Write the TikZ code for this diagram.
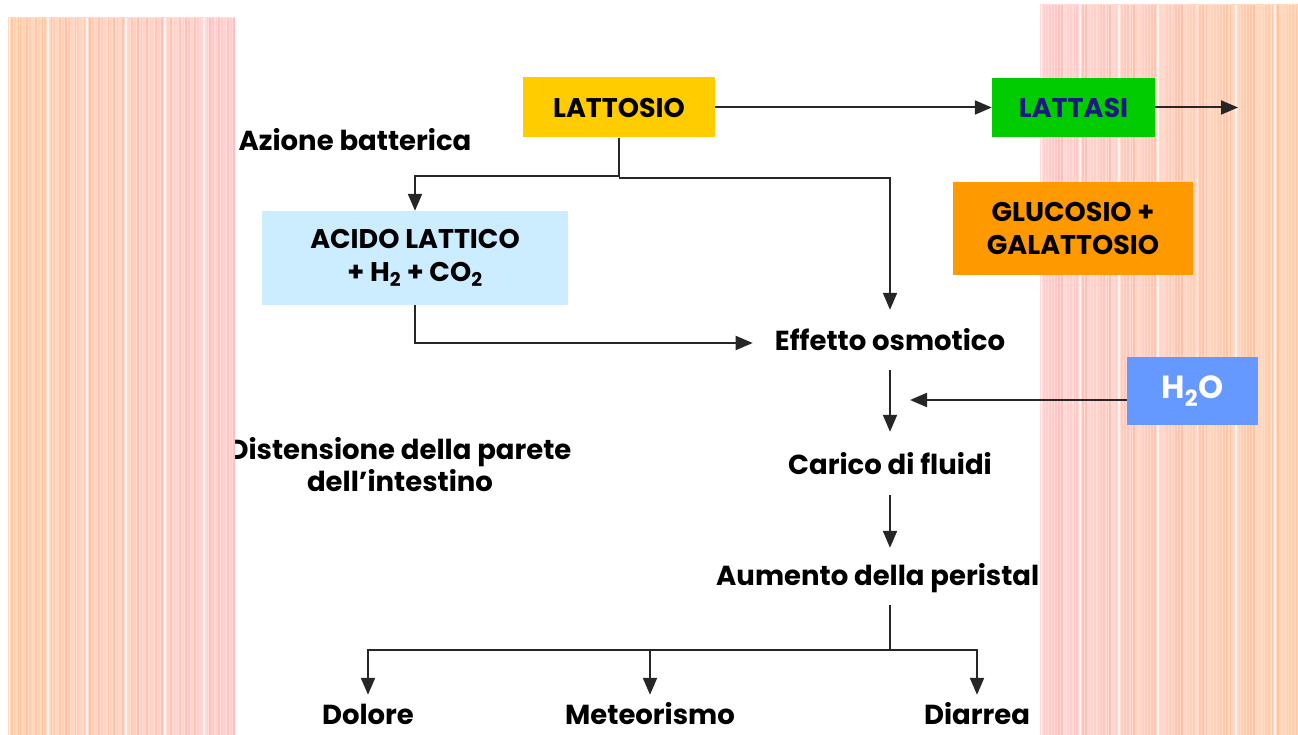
\documentclass[tikz,border=0pt]{standalone}
\usepackage{fontspec}
\setmainfont{Poppins}
\usetikzlibrary{arrows.meta,calc}
\definecolor{latY}{HTML}{FFCC00}
\definecolor{latG}{HTML}{00CC00}
\definecolor{navy}{HTML}{1A1A80}
\definecolor{acidB}{HTML}{CCECFF}
\definecolor{gluO}{HTML}{FF9900}
\definecolor{h2oB}{HTML}{6699FF}
\definecolor{wallO}{HTML}{FFC398}
\definecolor{wallP}{HTML}{FFBFBF}
\begin{document}
\begin{tikzpicture}[x=1pt,y=-1pt,
  txt/.style={font=\fontsize{27.5}{32}\selectfont\bfseries, inner sep=0pt, text height=20pt, text depth=6pt},
  box/.style={font=\fontsize{27}{33}\selectfont\bfseries, inner sep=0pt, align=center},
  conn/.style={draw=black!85, line width=2pt},
  arr/.style={conn, -{Triangle[width=14pt,length=17pt]}}]
\useasboundingbox (0,0) rectangle (1298,735);
% text partly hidden by the left wall
\node[box, font=\fontsize{27.5}{32}\selectfont\bfseries] (dis) at (400,465) {Distensione della parete\\dell’intestino};
% left wall
\shade[left color=wallO!60!white, right color=wallP!55!white] (8,18) rectangle (235,735);
\foreach \i in {0,...,75} {
  \pgfmathsetmacro\xx{9+\i*3}
  \pgfmathtruncatemacro\t{\i*100/75}
  \pgfmathsetmacro\w{0.8+1.6*mod(\i*37,11)/10}
  \pgfmathtruncatemacro\k{mod(\i*7,13)==0 ? 20 : 65+5*mod(\i*53,8)}
  \draw[line width=\w pt, draw=wallP!\t!wallO!\k!white] (\xx,18) -- (\xx,735);
}
% right wall
\shade[left color=wallP!55!white, right color=wallO!60!white] (1040,5) rectangle (1298,735);
\foreach \i in {0,...,85} {
  \pgfmathsetmacro\xx{1041+\i*3}
  \pgfmathtruncatemacro\t{\i*100/85}
  \pgfmathsetmacro\w{0.8+1.6*mod(\i*29,11)/10}
  \pgfmathtruncatemacro\k{mod(\i*5,13)==0 ? 20 : 65+5*mod(\i*41,8)}
  \draw[line width=\w pt, draw=wallO!\t!wallP!\k!white] (\xx,5) -- (\xx,735);
}
% nodes
\node[box, fill=latY, minimum width=192pt, minimum height=60pt] (lat) at (619,107.5) {LATTOSIO};
\node[box, fill=latG, text=navy, minimum width=163pt, minimum height=59pt] (las) at (1073.5,107.5) {LATTASI};
\coordinate (out) at (1238,107.5);
\node[txt] (azi) at (355,144) {Azione batterica};
\node[box, fill=acidB, minimum width=306pt, minimum height=94pt] (aci) at (415,258) {ACIDO LATTICO\\+ H\textsubscript{2} + CO\textsubscript{2}};
\node[box, fill=gluO, minimum width=240pt, minimum height=93pt] (glu) at (1073,228.5) {GLUCOSIO +\\GALATTOSIO};
\node[box, fill=h2oB, text=white, font=\fontsize{32}{36}\selectfont\bfseries, minimum width=131pt, minimum height=68pt] (h2o) at (1192.5,391) {H\textsubscript{2}O};
\coordinate (wend) at (910,400);
\node[txt] (eff) at (890,343) {Effetto osmotico};
\node[txt] (car) at (890,467) {Carico di fluidi};
\node[txt, anchor=west] (aum) at (716,578) {Aumento della peristal};
\coordinate (br) at (890,650);
\node[txt, text depth=0pt] (dol) at (368,714) {Dolore};
\node[txt, text depth=0pt] (met) at (650,714) {Meteorismo};
\node[txt, text depth=0pt] (dia) at (977,714) {Diarrea};
% connectors
\draw[arr] (lat.east) -- (lat.east -| las.west);
\draw[arr] (las.east) -- (out);
\draw[arr] (lat.south) -- ++(0,38) -| (aci.north);
\draw[arr] ($(lat.south)+(0,40)$) -| ([yshift=20pt]eff.north);
\draw[arr] (aci.south) |- ([xshift=-22pt]eff.west);
\draw[arr] (h2o.west |- wend) -- (wend);
\draw[arr] ([yshift=-14pt]eff.south) -- ([yshift=22pt]car.north);
\draw[arr] ([yshift=-15pt]car.south) -- ($(car.south |- aum.north)+(0,-17)$);
\draw[conn] ($(car.south |- aum.south)+(0,14)$) -- (br);
\draw[arr] (br) -| ([yshift=9pt]dol.north);
\draw[arr] (br) -| ([yshift=9pt]met.north);
\draw[arr] (br) -| ([yshift=9pt]dia.north);
\end{tikzpicture}
\end{document}
